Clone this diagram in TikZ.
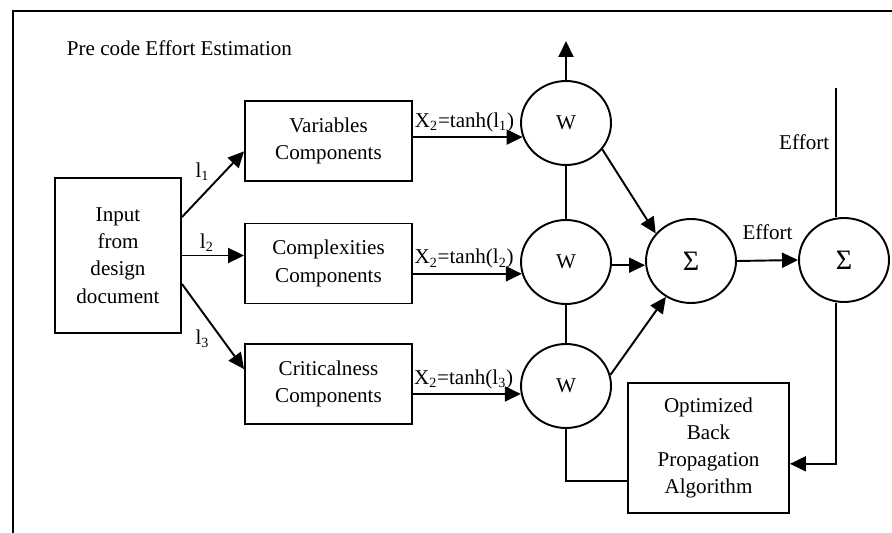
\documentclass[tikz,border=0pt]{standalone}
\usepackage{fontspec}
\setmainfont{Liberation Serif}
\usetikzlibrary{arrows.meta,positioning,shapes.geometric,calc}
\tikzset{
  caja/.style={rectangle,draw,line width=1.1pt,align=center,minimum width=3.34cm,
    minimum height=1.6cm,inner sep=2pt},
  nodo/.style={ellipse,draw,line width=1.1pt,minimum width=1.8cm,minimum height=1.68cm,inner sep=0pt},
  suma/.style={nodo,font=\fontsize{16}{18}\selectfont},
  flecha/.style={-{Triangle[length=3.2mm,width=3mm]},line width=1.1pt},
  linea/.style={line width=1.1pt},
  rotulo/.style={inner sep=1.5pt},
}

\begin{document}
\begin{tikzpicture}[x=0.02cm,y=-0.02cm,font=\fontsize{12}{15.5}\selectfont]
    \useasboundingbox (0,0) rectangle (892,533);
    \draw[linea] (13,560) |- (920,11);
    \node (titulo) at (179.5,48) {Pre code Effort Estimation};
    % entrada y componentes
    \node[caja,minimum width=2.52cm,minimum height=3.1cm] (in) at (118,255.5) {Input\\from\\design\\document};
    \node[caja] (var) at (328.5,141) {Variables\\Components};
    \node[caja] (comp) at (328.5,263.5) {Complexities\\Components};
    \node[caja] (crit) at (328.5,384) {Criticalness\\Components};
    \draw[flecha] (in.31) -- node[midway,above left,rotulo] {l\textsubscript{1}} (var.187);
    \draw[flecha] (in.east) -- node[pos=0.4,above,rotulo] {l\textsubscript{2}} (comp.west |- in.east);
    \draw[flecha] (in.-24) -- node[midway,below left,rotulo] {l\textsubscript{3}} (crit.170);
    % pesos y sumadores
    \node[nodo] (w1) at (566,123) {W};
    \node[nodo] (w2) at (566,262) {W};
    \node[nodo] (w3) at (566,386) {W};
    \node[suma] (s1) at (691,261) {Σ};
    \node[suma] (s2) at (844,260) {Σ};
    \node[caja,minimum width=3.22cm,minimum height=2.6cm] (algo) at (708.5,448) {Optimized\\Back\\Propagation\\Algorithm};
    \coordinate (salida) at (566,41);
    \coordinate (arriba) at (836,88);
    \draw[flecha] (var.east |- w1.198) -- node[pos=0.47,above=1pt,rotulo] {X\textsubscript{2}=tanh(l\textsubscript{1})} (w1.198);
    \draw[flecha] (comp.east |- w2.195) -- node[pos=0.47,above=1pt,rotulo] {X\textsubscript{2}=tanh(l\textsubscript{2})} (w2.195);
    \draw[flecha] (crit.east |- w3.190) -- node[pos=0.47,above=1pt,rotulo] {X\textsubscript{2}=tanh(l\textsubscript{3})} (w3.190);
    \draw[flecha] (w1.north) -- (salida);
    \draw[linea] (w1) -- (w2);
    \draw[linea] (w2) -- (w3);
    \draw[flecha] (w1.-36) -- (s1.142);
    \draw[flecha] (w2.-4) -- (s1.west |- w2.-4);
    \draw[flecha] (w3.14) -- (s1.235);
    \draw[flecha] (s1.east) -- node[midway,above=4mm,inner sep=0pt] {Effort} (s2.west);
    \draw[linea] (arriba) -- node[pos=0.42,left] {Effort} (arriba |- s2.north);
    \draw[flecha] (arriba |- s2.south) |- (algo.-11);
    \draw[linea] (w3.south) |- (algo.202);
\end{tikzpicture}
\end{document}
